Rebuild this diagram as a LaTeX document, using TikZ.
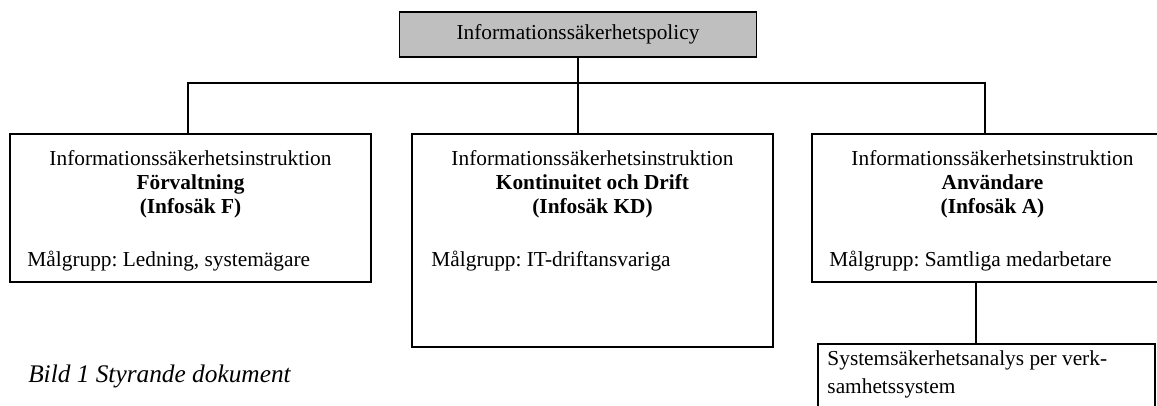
\documentclass[tikz,border=0pt]{standalone}
\usepackage{fontspec}
\setmainfont{Liberation Serif}
\frenchspacing
\usetikzlibrary{positioning, calc}

\begin{document}
\begin{tikzpicture}[
    x=0.75pt, y=0.75pt,
    font=\fontsize{16}{18}\selectfont,
    box/.style={draw, line width=1.2pt, rectangle, inner sep=0pt, minimum width=270.75pt},
    policybox/.style={box, fill=black!25, minimum width=267.75pt, minimum height=33.75pt},
    headtext/.style={align=center, inner sep=0pt},
    grouptext/.style={inner sep=0pt, anchor=base west},
    line/.style={draw, line width=0.8pt}
]
    \useasboundingbox (0,0) rectangle (1157,406);
    \clip (0,0) rectangle (1157,406);

    \node[policybox] (policy) at (578,371.5) {Informationssäkerhetspolicy};
    \node[box, minimum height=111pt] (instrF) at (190.5,198) {};
    \node[box, minimum height=159.75pt] (instrKD) at (592.5,165.5) {};
    \node[box, minimum height=111pt] (instrA) at (992.5,198) {};
    \node[box, minimum width=252.75pt, minimum height=72pt] (analys) at (986.5,14) {};

    \node[headtext, below=12.75pt of instrF.north] (headF) {Informationssäkerhetsinstruktion\\\textbf{Förvaltning}\\\textbf{(Infosäk F)}};
    \node[headtext, below=12.75pt of instrKD.north] (headKD) {Informationssäkerhetsinstruktion\\\textbf{Kontinuitet och Drift}\\\textbf{(Infosäk KD)}};
    \node[headtext, below=12.75pt of instrA.north] (headA) {Informationssäkerhetsinstruktion\\\textbf{Användare}\\\textbf{(Infosäk A)}};

    \node[grouptext] (groupF) at ($(instrF.north west)+(18,-133)$) {Målgrupp: Ledning, systemägare};
    \node[grouptext] (groupKD) at ($(instrKD.north west)+(20,-133)$) {Målgrupp: IT-driftansvariga};
    \node[grouptext] (groupA) at ($(instrA.north west)+(18,-133)$) {Målgrupp: Samtliga medarbetare};

    \node[grouptext, align=left, anchor=north west, font=\fontsize{16}{21}\selectfont] (analysText) at ($(analys.north west)+(10,-7)$) {Systemsäkerhetsanalys per verk-\\samhetssystem};

    \node[anchor=base west, inner sep=0pt, font=\fontsize{19}{22}\selectfont\itshape] (caption) at (28,23) {Bild 1 Styrande dokument};

    % Tree lines
    \coordinate (busL) at (188,323);
    \coordinate (busR) at (985,323);
    \coordinate (drop) at ($(instrA.south)+(-16.5,0)$);
    \draw[line] (policy.south) -- (policy.south |- instrKD.north);
    \draw[line] (busL |- instrF.north) -- (busL) -- (busR) -- (busR |- instrA.north);
    \draw[line] (drop) -- (drop |- analys.north);
\end{tikzpicture}
\end{document}
